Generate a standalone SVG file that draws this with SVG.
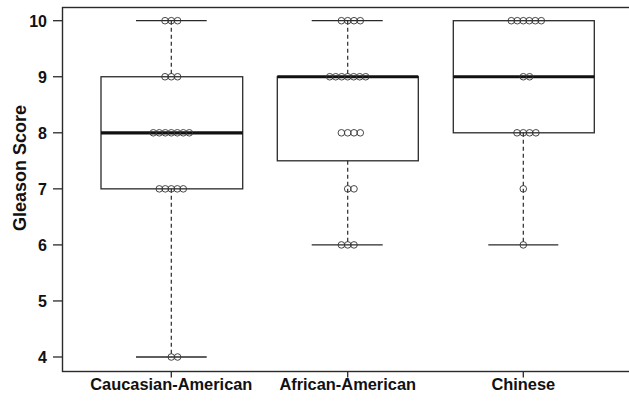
<svg xmlns="http://www.w3.org/2000/svg" width="629" height="404" viewBox="0 0 629 404">
<style>
.frame{fill:none;stroke:#2a2a2a;stroke-width:1.4}
.box{fill:none;stroke:#2a2a2a;stroke-width:1.3}
.med{stroke:#111;stroke-width:3.2}
.whisk{stroke:#2a2a2a;stroke-width:1.2;stroke-dasharray:4,3}
.cap{stroke:#2a2a2a;stroke-width:1.3}
.tick{stroke:#2a2a2a;stroke-width:1.3}
.pt{fill:none;stroke:#333;stroke-width:0.9}
.tl{font-family:"Liberation Sans",Arial,sans-serif;font-weight:bold;font-size:16px;fill:#111;text-anchor:end}
.xl{font-family:"Liberation Sans",Arial,sans-serif;font-weight:bold;font-size:16.4px;fill:#111;text-anchor:middle}
</style>
<rect width="629" height="404" fill="#fff"/>
<g id="axes">
<rect class="frame" x="62.5" y="7.5" width="590" height="364"/>
<g class="tick">
<line x1="53" y1="20.7" x2="62.5" y2="20.7"/>
<line x1="53" y1="76.75" x2="62.5" y2="76.75"/>
<line x1="53" y1="132.8" x2="62.5" y2="132.8"/>
<line x1="53" y1="188.85" x2="62.5" y2="188.85"/>
<line x1="53" y1="244.9" x2="62.5" y2="244.9"/>
<line x1="53" y1="300.95" x2="62.5" y2="300.95"/>
<line x1="53" y1="357" x2="62.5" y2="357"/>
<line x1="171.3" y1="371.5" x2="171.3" y2="377.5"/>
<line x1="347.7" y1="371.5" x2="347.7" y2="377.5"/>
<line x1="523.3" y1="371.5" x2="523.3" y2="377.5"/>
</g>
<text class="tl" x="47" y="26.5">10</text>
<text class="tl" x="47" y="82.5">9</text>
<text class="tl" x="47" y="138.5">8</text>
<text class="tl" x="47" y="194.5">7</text>
<text class="tl" x="47" y="250.5">6</text>
<text class="tl" x="47" y="306.5">5</text>
<text class="tl" x="47" y="362.5">4</text>
<text class="xl" x="171.3" y="390">Caucasian-American</text>
<text class="xl" x="347.7" y="390">African-American</text>
<text class="xl" x="523.3" y="390">Chinese</text>
<text x="25.5" y="168" transform="rotate(-90 25.5 168)" style="font-family:'Liberation Sans',Arial,sans-serif;font-weight:bold;font-size:18px;fill:#111;text-anchor:middle">Gleason Score</text>
</g>
<g id="connectors">
<line class="whisk" x1="171.3" y1="20.7" x2="171.3" y2="76.75"/>
<line class="whisk" x1="171.3" y1="188.85" x2="171.3" y2="357"/>
<line class="whisk" x1="347.7" y1="20.7" x2="347.7" y2="76.75"/>
<line class="whisk" x1="347.7" y1="160.8" x2="347.7" y2="244.9"/>
<line class="whisk" x1="523.3" y1="132.8" x2="523.3" y2="244.9"/>
</g>
<g id="caucasian">
<line class="cap" x1="136" y1="20.7" x2="206.7" y2="20.7"/>
<line class="cap" x1="136" y1="357" x2="206.7" y2="357"/>
<rect class="box" x="101" y="76.75" width="141.7" height="112.1"/>
<line class="med" x1="101" y1="132.8" x2="242.7" y2="132.8"/>
<g class="pt">
<circle cx="165" cy="20.7" r="3.3"/><circle cx="171.3" cy="20.7" r="3.3"/><circle cx="177.6" cy="20.7" r="3.3"/>
<circle cx="165" cy="76.75" r="3.3"/><circle cx="171.3" cy="76.75" r="3.3"/><circle cx="177.6" cy="76.75" r="3.3"/>
<circle cx="153.3" cy="132.8" r="3.3"/><circle cx="159.3" cy="132.8" r="3.3"/><circle cx="165.3" cy="132.8" r="3.3"/><circle cx="171.3" cy="132.8" r="3.3"/><circle cx="177.3" cy="132.8" r="3.3"/><circle cx="183.3" cy="132.8" r="3.3"/><circle cx="189.3" cy="132.8" r="3.3"/>
<circle cx="159.3" cy="188.85" r="3.3"/><circle cx="165.3" cy="188.85" r="3.3"/><circle cx="171.3" cy="188.85" r="3.3"/><circle cx="177.3" cy="188.85" r="3.3"/><circle cx="183.3" cy="188.85" r="3.3"/>
<circle cx="171.3" cy="357" r="3.3"/><circle cx="177.6" cy="357" r="3.3"/>
</g>
</g>
<g id="african">
<line class="cap" x1="311.7" y1="20.7" x2="382.7" y2="20.7"/>
<line class="cap" x1="311.7" y1="244.9" x2="382.7" y2="244.9"/>
<rect class="box" x="277.3" y="76.75" width="141" height="84.05"/>
<line class="med" x1="277.3" y1="76.75" x2="418.3" y2="76.75"/>
<g class="pt">
<circle cx="341.4" cy="20.7" r="3.3"/><circle cx="347.7" cy="20.7" r="3.3"/><circle cx="354" cy="20.7" r="3.3"/><circle cx="360.3" cy="20.7" r="3.3"/>
<circle cx="329.7" cy="76.75" r="3.3"/><circle cx="335.7" cy="76.75" r="3.3"/><circle cx="341.7" cy="76.75" r="3.3"/><circle cx="347.7" cy="76.75" r="3.3"/><circle cx="353.7" cy="76.75" r="3.3"/><circle cx="359.7" cy="76.75" r="3.3"/><circle cx="365.7" cy="76.75" r="3.3"/>
<circle cx="341.4" cy="132.8" r="3.3"/><circle cx="347.7" cy="132.8" r="3.3"/><circle cx="354" cy="132.8" r="3.3"/><circle cx="360.3" cy="132.8" r="3.3"/>
<circle cx="347.7" cy="188.85" r="3.3"/><circle cx="354" cy="188.85" r="3.3"/>
<circle cx="341.4" cy="244.9" r="3.3"/><circle cx="347.7" cy="244.9" r="3.3"/><circle cx="354" cy="244.9" r="3.3"/>
</g>
</g>
<g id="chinese">
<line class="cap" x1="488.3" y1="244.9" x2="558.3" y2="244.9"/>
<rect class="box" x="453.3" y="20.7" width="141" height="112.1"/>
<line class="med" x1="453.3" y1="76.75" x2="594.3" y2="76.75"/>
<g class="pt">
<circle cx="511.3" cy="20.7" r="3.3"/><circle cx="517.3" cy="20.7" r="3.3"/><circle cx="523.3" cy="20.7" r="3.3"/><circle cx="529.3" cy="20.7" r="3.3"/><circle cx="535.3" cy="20.7" r="3.3"/><circle cx="541.3" cy="20.7" r="3.3"/>
<circle cx="523.3" cy="76.75" r="3.3"/><circle cx="529.6" cy="76.75" r="3.3"/>
<circle cx="517" cy="132.8" r="3.3"/><circle cx="523.3" cy="132.8" r="3.3"/><circle cx="529.6" cy="132.8" r="3.3"/><circle cx="535.9" cy="132.8" r="3.3"/>
<circle cx="523.3" cy="188.85" r="3.3"/>
<circle cx="523.3" cy="244.9" r="3.3"/>
</g>
</g>
</svg>
